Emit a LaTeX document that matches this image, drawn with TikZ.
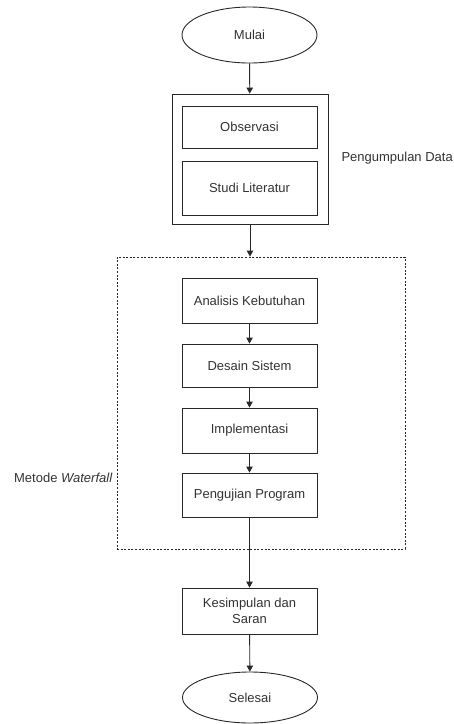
\documentclass[tikz,border=0pt]{standalone}
\usepackage{fontspec}
\setmainfont{Liberation Sans}
\usepackage{tikz}
\usetikzlibrary{arrows.meta,positioning,shapes.geometric}
\definecolor{linegray}{RGB}{40,40,40}
\definecolor{textgray}{RGB}{50,50,50}

\begin{document}
\begin{tikzpicture}[x=1pt,y=-1pt,
  every node/.style={font=\fontsize{13}{15.5}\selectfont, text=textgray},
  procbox/.style={draw=linegray, line width=0.9pt, rectangle, minimum width=135pt, inner sep=0pt},
  termnode/.style={draw=linegray, line width=0.9pt, ellipse, minimum width=135pt, inner sep=0pt},
  flow/.style={draw=linegray, line width=0.9pt, -{Triangle[length=6pt,width=6.5pt]}}]
\useasboundingbox (0,0) rectangle (454,724);

% START
\node[termnode, minimum height=56pt] (mulai) at (249.5,35) {Mulai};

% Pengumpulan Data group
\node[procbox, minimum height=42pt] (obs) at (249.5,127) {Observasi};
\node[procbox, minimum height=54pt] (studi) at (249.5,188) {Studi Literatur};
\node[draw=linegray, line width=0.9pt, minimum width=156pt, minimum height=130pt, inner sep=0pt] (kumpul) at (250,159) {};
\node[anchor=east, inner sep=0pt] (lblKumpul) at (453,158) {Pengumpulan Data};

% Metode Waterfall group
\node[draw=linegray, line width=0.9pt, dash pattern=on 2pt off 1.6pt, minimum width=288pt, minimum height=292pt, inner sep=0pt] (waterfall) at (261,403) {};
\node[procbox, minimum height=45pt] (analisis) at (249.5,300.5) {Analisis Kebutuhan};
\node[procbox, minimum height=43pt] (desain) at (249.5,365.5) {Desain Sistem};
\node[procbox, minimum height=45pt] (impl) at (249.5,430.5) {Implementasi};
\node[procbox, minimum height=44pt] (uji) at (249.5,495) {Pengujian Program};
\node[anchor=east] (lblWaterfall) at (116,478) {Metode \textit{Waterfall}};

% END
\node[procbox, minimum height=46pt, align=center] (simpul) at (249.5,611) {Kesimpulan dan\\Saran};
\node[termnode, minimum height=51pt] (selesai) at (250,697.5) {Selesai};

% connectors
\draw[flow] (mulai) -- (kumpul);
\draw[flow] (kumpul) -- (kumpul.south |- waterfall.north);
\draw[flow] (analisis) -- (desain);
\draw[flow] (desain) -- (impl);
\draw[flow] (impl) -- (uji);
\draw[flow] (uji) -- (simpul);
\draw[flow] (simpul) -- (selesai);
\end{tikzpicture}
\end{document}
